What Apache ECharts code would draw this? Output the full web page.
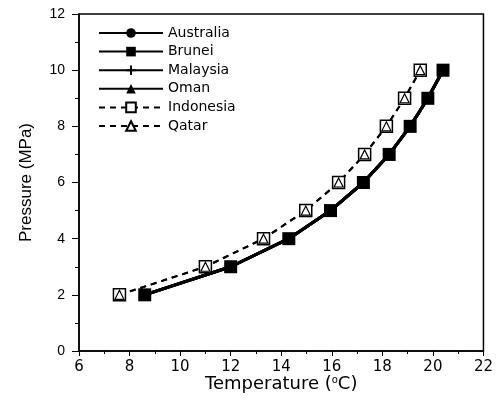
<!DOCTYPE html>
<html>
<head>
<meta charset="utf-8">
<script src="https://cdn.jsdelivr.net/npm/echarts@6/dist/echarts.min.js"></script>
<style>
  html, body { margin: 0; padding: 0; background: #fff; }
  #chart { width: 496px; height: 405px; }
</style>
</head>
<body>
<div id="chart"></div>
<script>
// pressure levels (MPa)
const pressure = [2, 3, 4, 5, 6, 7, 8, 9, 10];
// temperatures (°C)
const tempSolid = [8.6, 12.0, 14.3, 15.95, 17.25, 18.27, 19.1, 19.8, 20.4];   // Australia, Brunei, Malaysia, Oman
const tempDashed = [7.6, 11.0, 13.3, 14.97, 16.27, 17.3, 18.16, 18.88, 19.5]; // Indonesia, Qatar

const solidNames = ["Australia", "Brunei", "Malaysia", "Oman"];
const dashedNames = ["Indonesia", "Qatar"];

const font = "Liberation Sans, Arial, sans-serif";
const wideFont = "DejaVu Sans, sans-serif";
const toPairs = (xs) => xs.map((t, i) => [t, pressure[i]]);

const plus = "path://M4,0h2v4h4v2h-4v4h-2v-4h-4v-2h4z";
const solidSymbols = { Australia: "circle", Brunei: "rect", Malaysia: plus, Oman: "triangle" };
const solidSizes = { Australia: 11, Brunei: 13, Malaysia: 11, Oman: 12 };

const series = [];
solidNames.forEach((name) => {
  series.push({
    name: name,
    type: "line",
    data: toPairs(tempSolid),
    symbol: solidSymbols[name],
    symbolSize: solidSizes[name],
    itemStyle: { color: "#000" },
    lineStyle: { color: "#000", width: 3 },
    z: 3,
  });
});
series.push({
  name: "Indonesia",
  type: "line",
  data: toPairs(tempDashed),
  symbol: "rect",
  symbolSize: 12,
  itemStyle: { color: "#fff", borderColor: "#000", borderWidth: 1.5 },
  lineStyle: { color: "#000", width: 2, type: [6, 5] },
  z: 2,
});
series.push({
  name: "Qatar",
  type: "line",
  data: toPairs(tempDashed),
  symbol: "triangle",
  symbolSize: 9,
  itemStyle: { color: "#fff", borderColor: "#000", borderWidth: 1.2 },
  lineStyle: { color: "#000", width: 2, type: [6, 5] },
  z: 2,
});

const chart = echarts.init(document.getElementById("chart"));
chart.setOption({
  animation: false,
  backgroundColor: "#fff",
  textStyle: { fontFamily: font },
  grid: { left: 79, right: 8, top: 14, bottom: 54 },
  legend: {
    orient: "vertical",
    left: 93,
    top: 21,
    itemWidth: 64,
    itemHeight: 12,
    itemGap: 4.6,
    data: solidNames.concat(dashedNames),
    textStyle: { fontSize: 14, lineHeight: 14, color: "#000", fontFamily: wideFont },
  },
  xAxis: {
    type: "value",
    min: 6,
    max: 22,
    interval: 2,
    name: "Temperature ({s|o}C)",
    nameLocation: "middle",
    nameGap: 24,
    nameMoveOverlap: false,
    nameTextStyle: {
      fontSize: 18,
      color: "#000",
      fontFamily: wideFont,
      rich: { s: { fontSize: 10, verticalAlign: "top", padding: [0, 0, 8, 0], color: "#000", fontFamily: wideFont } },
    },
    axisLine: { lineStyle: { color: "#000", width: 1.5 } },
    axisTick: { length: 5, lineStyle: { color: "#000" } },
    minorTick: { show: true, splitNumber: 2, length: 3, lineStyle: { color: "#000" } },
    axisLabel: { fontSize: 15, color: "#000", margin: 9, fontFamily: wideFont },
    splitLine: { show: false },
  },
  yAxis: {
    type: "value",
    min: 0,
    max: 12,
    interval: 2,
    name: "Pressure (MPa)",
    nameLocation: "middle",
    nameGap: 44,
    nameMoveOverlap: false,
    nameTextStyle: { fontSize: 17, color: "#000" },
    axisLine: { lineStyle: { color: "#000", width: 1.5 } },
    axisTick: { length: 7, lineStyle: { color: "#000" } },
    minorTick: { show: true, splitNumber: 2, length: 4, lineStyle: { color: "#000" } },
    axisLabel: { fontSize: 14, color: "#000", margin: 14 },
    splitLine: { show: false },
  },
  series: series,
});

// frame: top and right borders of the plot box
const box = chart.getModel().getComponent("grid").coordinateSystem.getRect();
chart.setOption({
  graphic: [{
    type: "rect",
    shape: { x: box.x, y: box.y, width: box.width, height: box.height },
    style: { fill: "none", stroke: "#000", lineWidth: 1.5 },
    silent: true,
    z: 0,
  }],
});
</script>
</body>
</html>
